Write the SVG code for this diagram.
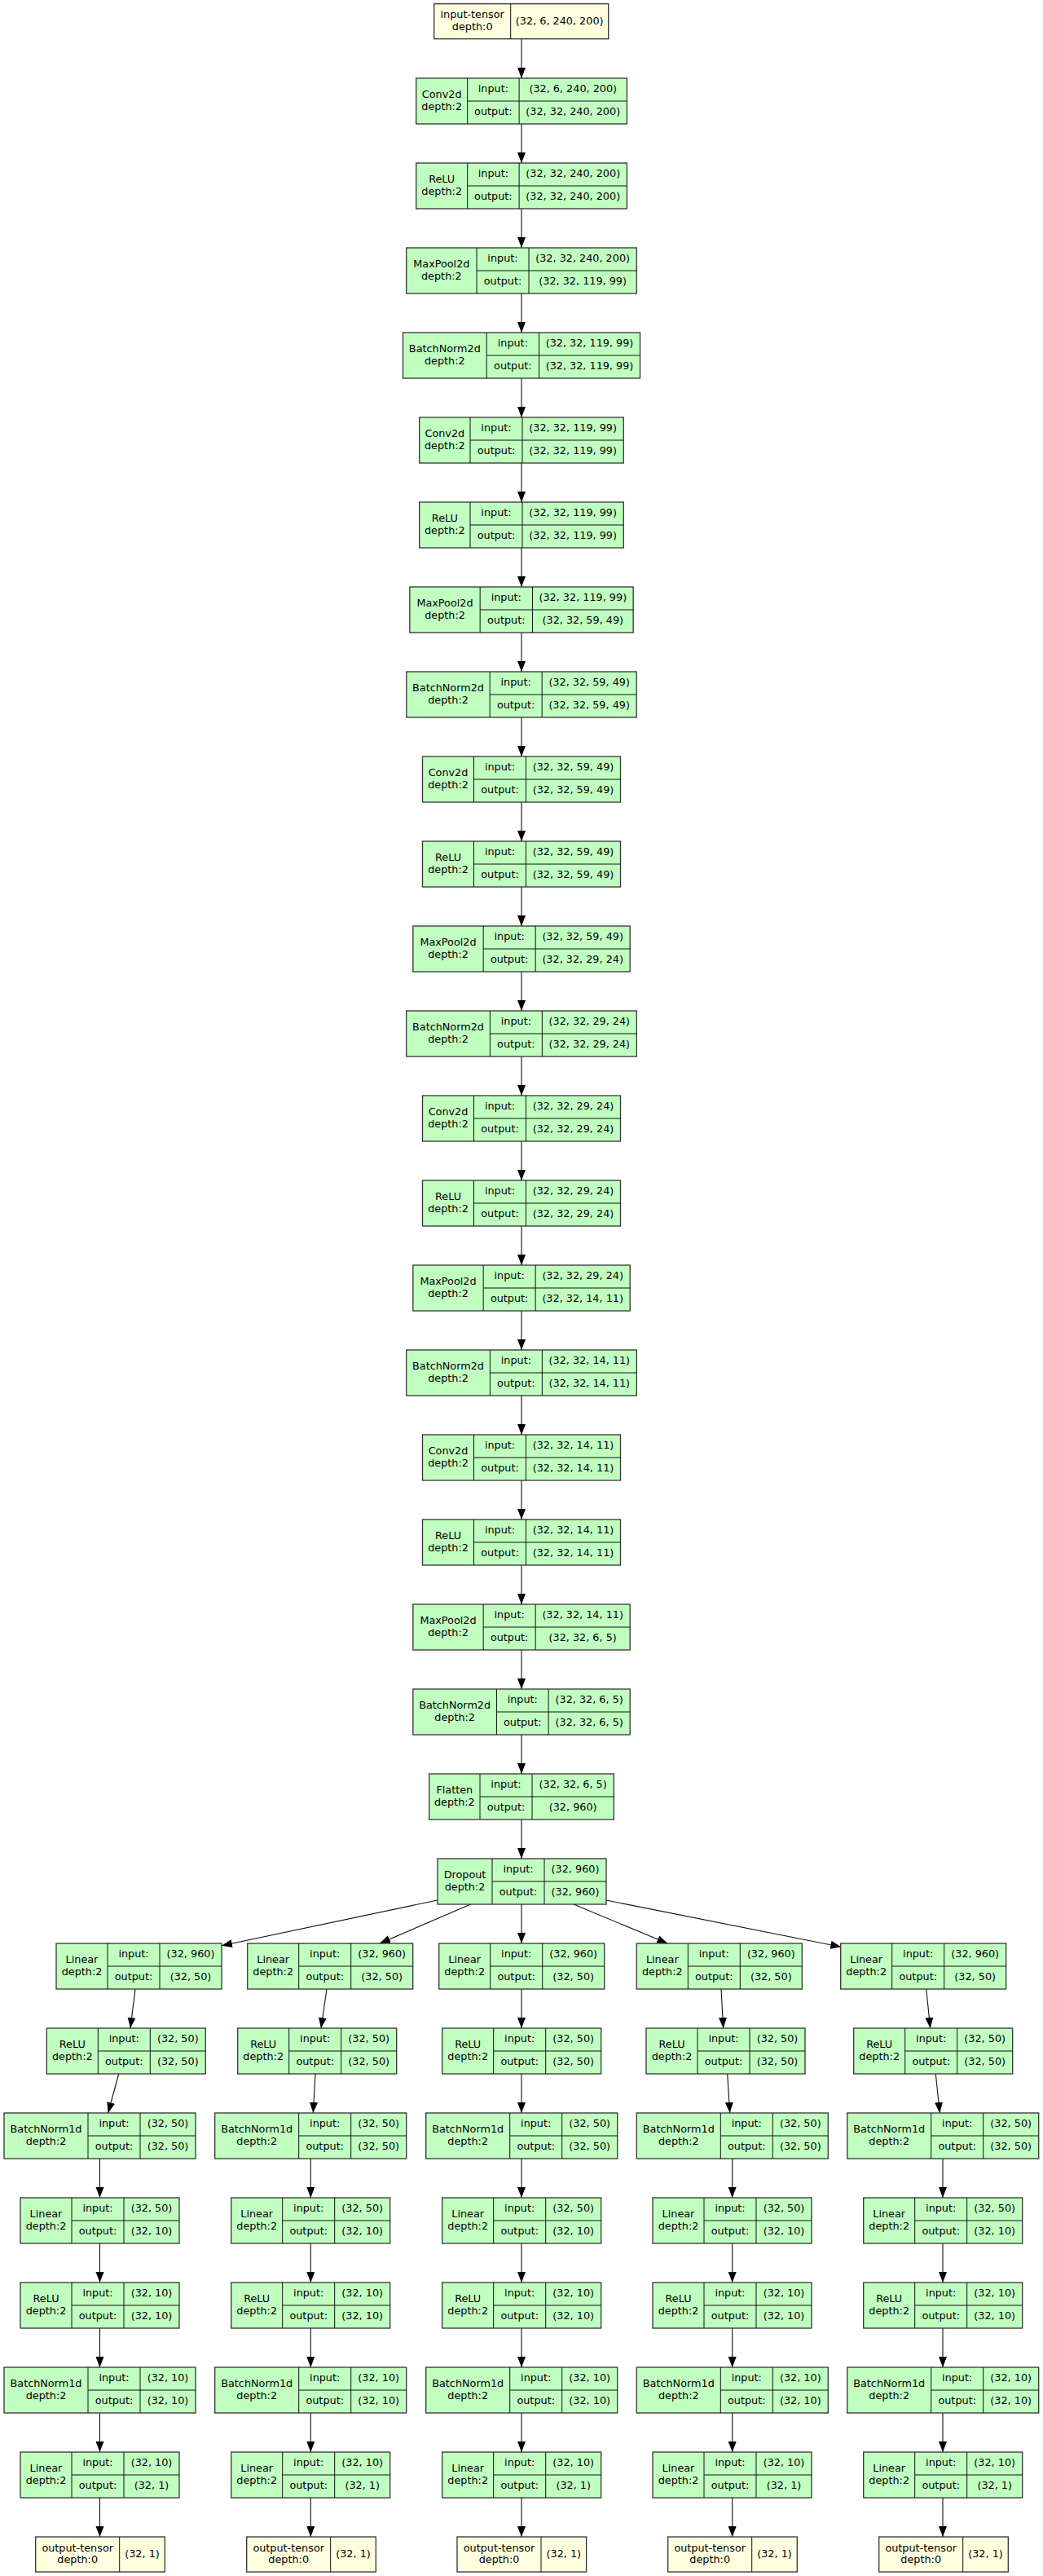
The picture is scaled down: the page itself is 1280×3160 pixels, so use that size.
<svg xmlns="http://www.w3.org/2000/svg" width="1280" height="3160" viewBox="0 0 1280 3160">
<defs>
<marker id="ah" markerWidth="14" markerHeight="11" refX="13" refY="5" orient="auto" markerUnits="userSpaceOnUse"><path d="M0,0 L13,5 L0,10 z" fill="#000"/></marker>
<style>
.n rect{fill:#c1ffc1;stroke:#333;stroke-width:1.3}
.io rect{fill:#ffffe0}
.n path{fill:none;stroke:#111;stroke-width:1}
.n text{font-family:"DejaVu Sans","Liberation Sans",sans-serif;font-size:12.8px;text-anchor:middle;fill:#000}
#edges path{fill:none;stroke:#111;stroke-width:1.1;marker-end:url(#ah)}
</style>
</defs>
<rect width="1280" height="3160" fill="#fff"/>
<g id="edges">
<path d="M640,47.7V96"/><path d="M640,152V200"/><path d="M640,256V304"/><path d="M640,360V408"/><path d="M640,464V512"/><path d="M640,568V616"/><path d="M640,672V720"/><path d="M640,776V824"/><path d="M640,880V928"/><path d="M640,984V1032"/><path d="M640,1088V1136"/><path d="M640,1192V1240"/><path d="M640,1296V1344"/><path d="M640,1400V1448"/><path d="M640,1504V1552"/><path d="M640,1608V1656"/><path d="M640,1712V1760"/><path d="M640,1816V1864"/><path d="M640,1920V1968"/><path d="M640,2024V2072"/><path d="M640,2128V2176"/><path d="M640,2232V2280"/>
<path d="M536.7,2331L272,2386.7"/><path d="M577.6,2336L466,2384"/><path d="M640,2336V2384"/><path d="M704,2336L819.3,2384"/><path d="M744,2331L1032.3,2388.3"/>
<path d="M166,2440L160,2488"/><path d="M145.7,2544L132.7,2592"/><path d="M122.5,2648V2696"/><path d="M122.5,2752V2800"/><path d="M122.5,2856V2904"/><path d="M122.5,2960V3008"/><path d="M122.5,3064V3112"/>
<path d="M401,2440L394,2488"/><path d="M387,2544L384.3,2592"/><path d="M381.3,2648V2696"/><path d="M381.3,2752V2800"/><path d="M381.3,2856V2904"/><path d="M381.3,2960V3008"/><path d="M381.3,3064V3112"/>
<path d="M640,2440V2488"/><path d="M640,2544V2592"/><path d="M640,2648V2696"/><path d="M640,2752V2800"/><path d="M640,2856V2904"/><path d="M640,2960V3008"/><path d="M640,3064V3112"/>
<path d="M885,2440L887.7,2488"/><path d="M892.7,2544L895.7,2592"/><path d="M898.7,2648V2696"/><path d="M898.7,2752V2800"/><path d="M898.7,2856V2904"/><path d="M898.7,2960V3008"/><path d="M898.7,3064V3112"/>
<path d="M1136.7,2440L1141.7,2488"/><path d="M1148.3,2544L1153.3,2592"/><path d="M1157,2648V2696"/><path d="M1157,2752V2800"/><path d="M1157,2856V2904"/><path d="M1157,2960V3008"/><path d="M1157,3064V3112"/>
</g>

<g id="input-tensor" class="n io" transform="translate(532.7,4.7)"><rect width="214" height="43"/><path d="M94,0V43"/><text x="47" y="17.5">input-tensor</text><text x="47" y="32">depth:0</text><text x="154" y="25">(32, 6, 240, 200)</text></g>

<g id="conv2d-1" class="n" transform="translate(510.7,96)"><rect width="258.7" height="56"/><path d="M63,0V56M126.4,0V56M63,28H258.7"/><text x="31.5" y="24">Conv2d</text><text x="31.5" y="39">depth:2</text><text x="94.7" y="17">input:</text><text x="94.7" y="45">output:</text><text x="192.55" y="17">(32, 6, 240, 200)</text><text x="192.55" y="45">(32, 32, 240, 200)</text></g>
<g id="relu-1" class="n" transform="translate(510.7,200)"><rect width="258.7" height="56"/><path d="M63,0V56M126.4,0V56M63,28H258.7"/><text x="31.5" y="24">ReLU</text><text x="31.5" y="39">depth:2</text><text x="94.7" y="17">input:</text><text x="94.7" y="45">output:</text><text x="192.55" y="17">(32, 32, 240, 200)</text><text x="192.55" y="45">(32, 32, 240, 200)</text></g>
<g id="maxpool2d-1" class="n" transform="translate(498.7,304)"><rect width="282.6" height="56"/><path d="M86.3,0V56M150.3,0V56M86.3,28H282.6"/><text x="43.15" y="24">MaxPool2d</text><text x="43.15" y="39">depth:2</text><text x="118.3" y="17">input:</text><text x="118.3" y="45">output:</text><text x="216.45" y="17">(32, 32, 240, 200)</text><text x="216.45" y="45">(32, 32, 119, 99)</text></g>
<g id="batchnorm2d-1" class="n" transform="translate(494.5,408)"><rect width="291" height="56"/><path d="M102.7,0V56M167,0V56M102.7,28H291"/><text x="51.35" y="24">BatchNorm2d</text><text x="51.35" y="39">depth:2</text><text x="134.85" y="17">input:</text><text x="134.85" y="45">output:</text><text x="229" y="17">(32, 32, 119, 99)</text><text x="229" y="45">(32, 32, 119, 99)</text></g>
<g id="conv2d-2" class="n" transform="translate(514.7,512)"><rect width="250.6" height="56"/><path d="M62.3,0V56M126.3,0V56M62.3,28H250.6"/><text x="31.15" y="24">Conv2d</text><text x="31.15" y="39">depth:2</text><text x="94.3" y="17">input:</text><text x="94.3" y="45">output:</text><text x="188.45" y="17">(32, 32, 119, 99)</text><text x="188.45" y="45">(32, 32, 119, 99)</text></g>
<g id="relu-2" class="n" transform="translate(514.7,616)"><rect width="250.6" height="56"/><path d="M62.3,0V56M126.3,0V56M62.3,28H250.6"/><text x="31.15" y="24">ReLU</text><text x="31.15" y="39">depth:2</text><text x="94.3" y="17">input:</text><text x="94.3" y="45">output:</text><text x="188.45" y="17">(32, 32, 119, 99)</text><text x="188.45" y="45">(32, 32, 119, 99)</text></g>
<g id="maxpool2d-2" class="n" transform="translate(502.85,720)"><rect width="274.3" height="56"/><path d="M86.3,0V56M150.6,0V56M86.3,28H274.3"/><text x="43.15" y="24">MaxPool2d</text><text x="43.15" y="39">depth:2</text><text x="118.45" y="17">input:</text><text x="118.45" y="45">output:</text><text x="212.45" y="17">(32, 32, 119, 99)</text><text x="212.45" y="45">(32, 32, 59, 49)</text></g>
<g id="batchnorm2d-2" class="n" transform="translate(498.85,824)"><rect width="282.3" height="56"/><path d="M102.3,0V56M166.3,0V56M102.3,28H282.3"/><text x="51.15" y="24">BatchNorm2d</text><text x="51.15" y="39">depth:2</text><text x="134.3" y="17">input:</text><text x="134.3" y="45">output:</text><text x="224.3" y="17">(32, 32, 59, 49)</text><text x="224.3" y="45">(32, 32, 59, 49)</text></g>
<g id="conv2d-3" class="n" transform="translate(518.5,928)"><rect width="243" height="56"/><path d="M63,0V56M127,0V56M63,28H243"/><text x="31.5" y="24">Conv2d</text><text x="31.5" y="39">depth:2</text><text x="95" y="17">input:</text><text x="95" y="45">output:</text><text x="185" y="17">(32, 32, 59, 49)</text><text x="185" y="45">(32, 32, 59, 49)</text></g>
<g id="relu-3" class="n" transform="translate(518.5,1032)"><rect width="243" height="56"/><path d="M63,0V56M127,0V56M63,28H243"/><text x="31.5" y="24">ReLU</text><text x="31.5" y="39">depth:2</text><text x="95" y="17">input:</text><text x="95" y="45">output:</text><text x="185" y="17">(32, 32, 59, 49)</text><text x="185" y="45">(32, 32, 59, 49)</text></g>
<g id="maxpool2d-3" class="n" transform="translate(506.85,1136)"><rect width="266.3" height="56"/><path d="M86.3,0V56M150.3,0V56M86.3,28H266.3"/><text x="43.15" y="24">MaxPool2d</text><text x="43.15" y="39">depth:2</text><text x="118.3" y="17">input:</text><text x="118.3" y="45">output:</text><text x="208.3" y="17">(32, 32, 59, 49)</text><text x="208.3" y="45">(32, 32, 29, 24)</text></g>
<g id="batchnorm2d-3" class="n" transform="translate(498.65,1240)"><rect width="282.7" height="56"/><path d="M102.7,0V56M166.7,0V56M102.7,28H282.7"/><text x="51.35" y="24">BatchNorm2d</text><text x="51.35" y="39">depth:2</text><text x="134.7" y="17">input:</text><text x="134.7" y="45">output:</text><text x="224.7" y="17">(32, 32, 29, 24)</text><text x="224.7" y="45">(32, 32, 29, 24)</text></g>
<g id="conv2d-4" class="n" transform="translate(518.5,1344)"><rect width="243" height="56"/><path d="M63,0V56M127,0V56M63,28H243"/><text x="31.5" y="24">Conv2d</text><text x="31.5" y="39">depth:2</text><text x="95" y="17">input:</text><text x="95" y="45">output:</text><text x="185" y="17">(32, 32, 29, 24)</text><text x="185" y="45">(32, 32, 29, 24)</text></g>
<g id="relu-4" class="n" transform="translate(518.5,1448)"><rect width="243" height="56"/><path d="M63,0V56M127,0V56M63,28H243"/><text x="31.5" y="24">ReLU</text><text x="31.5" y="39">depth:2</text><text x="95" y="17">input:</text><text x="95" y="45">output:</text><text x="185" y="17">(32, 32, 29, 24)</text><text x="185" y="45">(32, 32, 29, 24)</text></g>
<g id="maxpool2d-4" class="n" transform="translate(506.85,1552)"><rect width="266.3" height="56"/><path d="M86.3,0V56M150.3,0V56M86.3,28H266.3"/><text x="43.15" y="24">MaxPool2d</text><text x="43.15" y="39">depth:2</text><text x="118.3" y="17">input:</text><text x="118.3" y="45">output:</text><text x="208.3" y="17">(32, 32, 29, 24)</text><text x="208.3" y="45">(32, 32, 14, 11)</text></g>
<g id="batchnorm2d-4" class="n" transform="translate(498.65,1656)"><rect width="282.7" height="56"/><path d="M102.7,0V56M166.7,0V56M102.7,28H282.7"/><text x="51.35" y="24">BatchNorm2d</text><text x="51.35" y="39">depth:2</text><text x="134.7" y="17">input:</text><text x="134.7" y="45">output:</text><text x="224.7" y="17">(32, 32, 14, 11)</text><text x="224.7" y="45">(32, 32, 14, 11)</text></g>
<g id="conv2d-5" class="n" transform="translate(518.5,1760)"><rect width="243" height="56"/><path d="M63,0V56M127,0V56M63,28H243"/><text x="31.5" y="24">Conv2d</text><text x="31.5" y="39">depth:2</text><text x="95" y="17">input:</text><text x="95" y="45">output:</text><text x="185" y="17">(32, 32, 14, 11)</text><text x="185" y="45">(32, 32, 14, 11)</text></g>
<g id="relu-5" class="n" transform="translate(518.5,1864)"><rect width="243" height="56"/><path d="M63,0V56M127,0V56M63,28H243"/><text x="31.5" y="24">ReLU</text><text x="31.5" y="39">depth:2</text><text x="95" y="17">input:</text><text x="95" y="45">output:</text><text x="185" y="17">(32, 32, 14, 11)</text><text x="185" y="45">(32, 32, 14, 11)</text></g>
<g id="maxpool2d-5" class="n" transform="translate(506.85,1968)"><rect width="266.3" height="56"/><path d="M86.3,0V56M150.3,0V56M86.3,28H266.3"/><text x="43.15" y="24">MaxPool2d</text><text x="43.15" y="39">depth:2</text><text x="118.3" y="17">input:</text><text x="118.3" y="45">output:</text><text x="208.3" y="17">(32, 32, 14, 11)</text><text x="208.3" y="45">(32, 32, 6, 5)</text></g>
<g id="batchnorm2d-5" class="n" transform="translate(506.85,2072)"><rect width="266.3" height="56"/><path d="M102.6,0V56M166.3,0V56M102.6,28H266.3"/><text x="51.3" y="24">BatchNorm2d</text><text x="51.3" y="39">depth:2</text><text x="134.45" y="17">input:</text><text x="134.45" y="45">output:</text><text x="216.3" y="17">(32, 32, 6, 5)</text><text x="216.3" y="45">(32, 32, 6, 5)</text></g>
<g id="flatten" class="n" transform="translate(526.7,2176)"><rect width="226.6" height="56"/><path d="M62.3,0V56M126.3,0V56M62.3,28H226.6"/><text x="31.15" y="24">Flatten</text><text x="31.15" y="39">depth:2</text><text x="94.3" y="17">input:</text><text x="94.3" y="45">output:</text><text x="176.45" y="17">(32, 32, 6, 5)</text><text x="176.45" y="45">(32, 960)</text></g>
<g id="dropout" class="n" transform="translate(537,2280)"><rect width="207" height="56"/><path d="M67,0V56M131,0V56M67,28H207"/><text x="33.5" y="24">Dropout</text><text x="33.5" y="39">depth:2</text><text x="99" y="17">input:</text><text x="99" y="45">output:</text><text x="169" y="17">(32, 960)</text><text x="169" y="45">(32, 960)</text></g>

<g id="b1-linear-1" class="n" transform="translate(69,2384)"><rect width="203" height="56"/><path d="M63,0V56M127,0V56M63,28H203"/><text x="31.5" y="24">Linear</text><text x="31.5" y="39">depth:2</text><text x="95" y="17">input:</text><text x="95" y="45">output:</text><text x="165" y="17">(32, 960)</text><text x="165" y="45">(32, 50)</text></g>
<g id="b1-relu-1" class="n" transform="translate(57.3,2488)"><rect width="195" height="56"/><path d="M63,0V56M127,0V56M63,28H195"/><text x="31.5" y="24">ReLU</text><text x="31.5" y="39">depth:2</text><text x="95" y="17">input:</text><text x="95" y="45">output:</text><text x="161" y="17">(32, 50)</text><text x="161" y="45">(32, 50)</text></g>
<g id="b1-batchnorm1d-1" class="n" transform="translate(5,2592)"><rect width="235" height="56"/><path d="M103,0V56M167,0V56M103,28H235"/><text x="51.5" y="24">BatchNorm1d</text><text x="51.5" y="39">depth:2</text><text x="135" y="17">input:</text><text x="135" y="45">output:</text><text x="201" y="17">(32, 50)</text><text x="201" y="45">(32, 50)</text></g>
<g id="b1-linear-2" class="n" transform="translate(25,2696)"><rect width="195" height="56"/><path d="M63,0V56M127,0V56M63,28H195"/><text x="31.5" y="24">Linear</text><text x="31.5" y="39">depth:2</text><text x="95" y="17">input:</text><text x="95" y="45">output:</text><text x="161" y="17">(32, 50)</text><text x="161" y="45">(32, 10)</text></g>
<g id="b1-relu-2" class="n" transform="translate(25,2800)"><rect width="195" height="56"/><path d="M63,0V56M127,0V56M63,28H195"/><text x="31.5" y="24">ReLU</text><text x="31.5" y="39">depth:2</text><text x="95" y="17">input:</text><text x="95" y="45">output:</text><text x="161" y="17">(32, 10)</text><text x="161" y="45">(32, 10)</text></g>
<g id="b1-batchnorm1d-2" class="n" transform="translate(5,2904)"><rect width="235" height="56"/><path d="M103,0V56M167,0V56M103,28H235"/><text x="51.5" y="24">BatchNorm1d</text><text x="51.5" y="39">depth:2</text><text x="135" y="17">input:</text><text x="135" y="45">output:</text><text x="201" y="17">(32, 10)</text><text x="201" y="45">(32, 10)</text></g>
<g id="b1-linear-3" class="n" transform="translate(25,3008)"><rect width="195" height="56"/><path d="M63,0V56M127,0V56M63,28H195"/><text x="31.5" y="24">Linear</text><text x="31.5" y="39">depth:2</text><text x="95" y="17">input:</text><text x="95" y="45">output:</text><text x="161" y="17">(32, 10)</text><text x="161" y="45">(32, 1)</text></g>
<g id="b1-output-tensor" class="n io" transform="translate(43.7,3112)"><rect width="158.6" height="43"/><path d="M103,0V43"/><text x="51.5" y="17.5">output-tensor</text><text x="51.5" y="32">depth:0</text><text x="130.8" y="25">(32, 1)</text></g>

<g id="b2-linear-1" class="n" transform="translate(303.7,2384)"><rect width="203" height="56"/><path d="M63,0V56M127,0V56M63,28H203"/><text x="31.5" y="24">Linear</text><text x="31.5" y="39">depth:2</text><text x="95" y="17">input:</text><text x="95" y="45">output:</text><text x="165" y="17">(32, 960)</text><text x="165" y="45">(32, 50)</text></g>
<g id="b2-relu-1" class="n" transform="translate(291.7,2488)"><rect width="195" height="56"/><path d="M63,0V56M127,0V56M63,28H195"/><text x="31.5" y="24">ReLU</text><text x="31.5" y="39">depth:2</text><text x="95" y="17">input:</text><text x="95" y="45">output:</text><text x="161" y="17">(32, 50)</text><text x="161" y="45">(32, 50)</text></g>
<g id="b2-batchnorm1d-1" class="n" transform="translate(263.7,2592)"><rect width="235" height="56"/><path d="M103,0V56M167,0V56M103,28H235"/><text x="51.5" y="24">BatchNorm1d</text><text x="51.5" y="39">depth:2</text><text x="135" y="17">input:</text><text x="135" y="45">output:</text><text x="201" y="17">(32, 50)</text><text x="201" y="45">(32, 50)</text></g>
<g id="b2-linear-2" class="n" transform="translate(283.7,2696)"><rect width="195" height="56"/><path d="M63,0V56M127,0V56M63,28H195"/><text x="31.5" y="24">Linear</text><text x="31.5" y="39">depth:2</text><text x="95" y="17">input:</text><text x="95" y="45">output:</text><text x="161" y="17">(32, 50)</text><text x="161" y="45">(32, 10)</text></g>
<g id="b2-relu-2" class="n" transform="translate(283.7,2800)"><rect width="195" height="56"/><path d="M63,0V56M127,0V56M63,28H195"/><text x="31.5" y="24">ReLU</text><text x="31.5" y="39">depth:2</text><text x="95" y="17">input:</text><text x="95" y="45">output:</text><text x="161" y="17">(32, 10)</text><text x="161" y="45">(32, 10)</text></g>
<g id="b2-batchnorm1d-2" class="n" transform="translate(263.7,2904)"><rect width="235" height="56"/><path d="M103,0V56M167,0V56M103,28H235"/><text x="51.5" y="24">BatchNorm1d</text><text x="51.5" y="39">depth:2</text><text x="135" y="17">input:</text><text x="135" y="45">output:</text><text x="201" y="17">(32, 10)</text><text x="201" y="45">(32, 10)</text></g>
<g id="b2-linear-3" class="n" transform="translate(283.7,3008)"><rect width="195" height="56"/><path d="M63,0V56M127,0V56M63,28H195"/><text x="31.5" y="24">Linear</text><text x="31.5" y="39">depth:2</text><text x="95" y="17">input:</text><text x="95" y="45">output:</text><text x="161" y="17">(32, 10)</text><text x="161" y="45">(32, 1)</text></g>
<g id="b2-output-tensor" class="n io" transform="translate(302.7,3112)"><rect width="158.6" height="43"/><path d="M103,0V43"/><text x="51.5" y="17.5">output-tensor</text><text x="51.5" y="32">depth:0</text><text x="130.8" y="25">(32, 1)</text></g>

<g id="b3-linear-1" class="n" transform="translate(538.7,2384)"><rect width="203" height="56"/><path d="M63,0V56M127,0V56M63,28H203"/><text x="31.5" y="24">Linear</text><text x="31.5" y="39">depth:2</text><text x="95" y="17">input:</text><text x="95" y="45">output:</text><text x="165" y="17">(32, 960)</text><text x="165" y="45">(32, 50)</text></g>
<g id="b3-relu-1" class="n" transform="translate(542.7,2488)"><rect width="195" height="56"/><path d="M63,0V56M127,0V56M63,28H195"/><text x="31.5" y="24">ReLU</text><text x="31.5" y="39">depth:2</text><text x="95" y="17">input:</text><text x="95" y="45">output:</text><text x="161" y="17">(32, 50)</text><text x="161" y="45">(32, 50)</text></g>
<g id="b3-batchnorm1d-1" class="n" transform="translate(522.7,2592)"><rect width="235" height="56"/><path d="M103,0V56M167,0V56M103,28H235"/><text x="51.5" y="24">BatchNorm1d</text><text x="51.5" y="39">depth:2</text><text x="135" y="17">input:</text><text x="135" y="45">output:</text><text x="201" y="17">(32, 50)</text><text x="201" y="45">(32, 50)</text></g>
<g id="b3-linear-2" class="n" transform="translate(542.7,2696)"><rect width="195" height="56"/><path d="M63,0V56M127,0V56M63,28H195"/><text x="31.5" y="24">Linear</text><text x="31.5" y="39">depth:2</text><text x="95" y="17">input:</text><text x="95" y="45">output:</text><text x="161" y="17">(32, 50)</text><text x="161" y="45">(32, 10)</text></g>
<g id="b3-relu-2" class="n" transform="translate(542.7,2800)"><rect width="195" height="56"/><path d="M63,0V56M127,0V56M63,28H195"/><text x="31.5" y="24">ReLU</text><text x="31.5" y="39">depth:2</text><text x="95" y="17">input:</text><text x="95" y="45">output:</text><text x="161" y="17">(32, 10)</text><text x="161" y="45">(32, 10)</text></g>
<g id="b3-batchnorm1d-2" class="n" transform="translate(522.7,2904)"><rect width="235" height="56"/><path d="M103,0V56M167,0V56M103,28H235"/><text x="51.5" y="24">BatchNorm1d</text><text x="51.5" y="39">depth:2</text><text x="135" y="17">input:</text><text x="135" y="45">output:</text><text x="201" y="17">(32, 10)</text><text x="201" y="45">(32, 10)</text></g>
<g id="b3-linear-3" class="n" transform="translate(542.7,3008)"><rect width="195" height="56"/><path d="M63,0V56M127,0V56M63,28H195"/><text x="31.5" y="24">Linear</text><text x="31.5" y="39">depth:2</text><text x="95" y="17">input:</text><text x="95" y="45">output:</text><text x="161" y="17">(32, 10)</text><text x="161" y="45">(32, 1)</text></g>
<g id="b3-output-tensor" class="n io" transform="translate(561,3112)"><rect width="158.6" height="43"/><path d="M103,0V43"/><text x="51.5" y="17.5">output-tensor</text><text x="51.5" y="32">depth:0</text><text x="130.8" y="25">(32, 1)</text></g>

<g id="b4-linear-1" class="n" transform="translate(781.3,2384)"><rect width="203" height="56"/><path d="M63,0V56M127,0V56M63,28H203"/><text x="31.5" y="24">Linear</text><text x="31.5" y="39">depth:2</text><text x="95" y="17">input:</text><text x="95" y="45">output:</text><text x="165" y="17">(32, 960)</text><text x="165" y="45">(32, 50)</text></g>
<g id="b4-relu-1" class="n" transform="translate(793,2488)"><rect width="195" height="56"/><path d="M63,0V56M127,0V56M63,28H195"/><text x="31.5" y="24">ReLU</text><text x="31.5" y="39">depth:2</text><text x="95" y="17">input:</text><text x="95" y="45">output:</text><text x="161" y="17">(32, 50)</text><text x="161" y="45">(32, 50)</text></g>
<g id="b4-batchnorm1d-1" class="n" transform="translate(781.3,2592)"><rect width="235" height="56"/><path d="M103,0V56M167,0V56M103,28H235"/><text x="51.5" y="24">BatchNorm1d</text><text x="51.5" y="39">depth:2</text><text x="135" y="17">input:</text><text x="135" y="45">output:</text><text x="201" y="17">(32, 50)</text><text x="201" y="45">(32, 50)</text></g>
<g id="b4-linear-2" class="n" transform="translate(801,2696)"><rect width="195" height="56"/><path d="M63,0V56M127,0V56M63,28H195"/><text x="31.5" y="24">Linear</text><text x="31.5" y="39">depth:2</text><text x="95" y="17">input:</text><text x="95" y="45">output:</text><text x="161" y="17">(32, 50)</text><text x="161" y="45">(32, 10)</text></g>
<g id="b4-relu-2" class="n" transform="translate(801,2800)"><rect width="195" height="56"/><path d="M63,0V56M127,0V56M63,28H195"/><text x="31.5" y="24">ReLU</text><text x="31.5" y="39">depth:2</text><text x="95" y="17">input:</text><text x="95" y="45">output:</text><text x="161" y="17">(32, 10)</text><text x="161" y="45">(32, 10)</text></g>
<g id="b4-batchnorm1d-2" class="n" transform="translate(781.3,2904)"><rect width="235" height="56"/><path d="M103,0V56M167,0V56M103,28H235"/><text x="51.5" y="24">BatchNorm1d</text><text x="51.5" y="39">depth:2</text><text x="135" y="17">input:</text><text x="135" y="45">output:</text><text x="201" y="17">(32, 10)</text><text x="201" y="45">(32, 10)</text></g>
<g id="b4-linear-3" class="n" transform="translate(801,3008)"><rect width="195" height="56"/><path d="M63,0V56M127,0V56M63,28H195"/><text x="31.5" y="24">Linear</text><text x="31.5" y="39">depth:2</text><text x="95" y="17">input:</text><text x="95" y="45">output:</text><text x="161" y="17">(32, 10)</text><text x="161" y="45">(32, 1)</text></g>
<g id="b4-output-tensor" class="n io" transform="translate(819.7,3112)"><rect width="158.6" height="43"/><path d="M103,0V43"/><text x="51.5" y="17.5">output-tensor</text><text x="51.5" y="32">depth:0</text><text x="130.8" y="25">(32, 1)</text></g>

<g id="b5-linear-1" class="n" transform="translate(1031.7,2384)"><rect width="203" height="56"/><path d="M63,0V56M127,0V56M63,28H203"/><text x="31.5" y="24">Linear</text><text x="31.5" y="39">depth:2</text><text x="95" y="17">input:</text><text x="95" y="45">output:</text><text x="165" y="17">(32, 960)</text><text x="165" y="45">(32, 50)</text></g>
<g id="b5-relu-1" class="n" transform="translate(1047.7,2488)"><rect width="195" height="56"/><path d="M63,0V56M127,0V56M63,28H195"/><text x="31.5" y="24">ReLU</text><text x="31.5" y="39">depth:2</text><text x="95" y="17">input:</text><text x="95" y="45">output:</text><text x="161" y="17">(32, 50)</text><text x="161" y="45">(32, 50)</text></g>
<g id="b5-batchnorm1d-1" class="n" transform="translate(1039.7,2592)"><rect width="235" height="56"/><path d="M103,0V56M167,0V56M103,28H235"/><text x="51.5" y="24">BatchNorm1d</text><text x="51.5" y="39">depth:2</text><text x="135" y="17">input:</text><text x="135" y="45">output:</text><text x="201" y="17">(32, 50)</text><text x="201" y="45">(32, 50)</text></g>
<g id="b5-linear-2" class="n" transform="translate(1059.7,2696)"><rect width="195" height="56"/><path d="M63,0V56M127,0V56M63,28H195"/><text x="31.5" y="24">Linear</text><text x="31.5" y="39">depth:2</text><text x="95" y="17">input:</text><text x="95" y="45">output:</text><text x="161" y="17">(32, 50)</text><text x="161" y="45">(32, 10)</text></g>
<g id="b5-relu-2" class="n" transform="translate(1059.7,2800)"><rect width="195" height="56"/><path d="M63,0V56M127,0V56M63,28H195"/><text x="31.5" y="24">ReLU</text><text x="31.5" y="39">depth:2</text><text x="95" y="17">input:</text><text x="95" y="45">output:</text><text x="161" y="17">(32, 10)</text><text x="161" y="45">(32, 10)</text></g>
<g id="b5-batchnorm1d-2" class="n" transform="translate(1039.7,2904)"><rect width="235" height="56"/><path d="M103,0V56M167,0V56M103,28H235"/><text x="51.5" y="24">BatchNorm1d</text><text x="51.5" y="39">depth:2</text><text x="135" y="17">input:</text><text x="135" y="45">output:</text><text x="201" y="17">(32, 10)</text><text x="201" y="45">(32, 10)</text></g>
<g id="b5-linear-3" class="n" transform="translate(1059.7,3008)"><rect width="195" height="56"/><path d="M63,0V56M127,0V56M63,28H195"/><text x="31.5" y="24">Linear</text><text x="31.5" y="39">depth:2</text><text x="95" y="17">input:</text><text x="95" y="45">output:</text><text x="161" y="17">(32, 10)</text><text x="161" y="45">(32, 1)</text></g>
<g id="b5-output-tensor" class="n io" transform="translate(1078.7,3112)"><rect width="158.6" height="43"/><path d="M103,0V43"/><text x="51.5" y="17.5">output-tensor</text><text x="51.5" y="32">depth:0</text><text x="130.8" y="25">(32, 1)</text></g>
</svg>
